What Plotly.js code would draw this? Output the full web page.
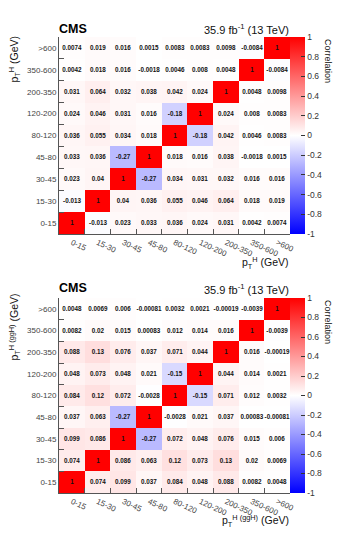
<!DOCTYPE html>
<html>
<head>
<meta charset="utf-8">
<script src="https://cdn.plot.ly/plotly-3.0.1.min.js"></script>
<style>
  html, body { margin: 0; padding: 0; background: #fff; }
  #chart { width: 338px; height: 536px; }
</style>
</head>
<body>
<div id="chart"></div>
<script>
// Higgs pT bins (bottom-to-top on y, left-to-right on x)
const ptBins = ['0-15', '15-30', '30-45', '45-80', '80-120', '120-200', '200-350', '350-600', '>600'];

// Colour bar ticks
const cbTicks = [-1, -0.8, -0.6, -0.4, -0.2, 0, 0.2, 0.4, 0.6, 0.8, 1];

// Correlation matrix, inclusive pT^H (rows: 0-15 ... >600)
const corrInclusive = [
  [1, -0.013, 0.023, 0.033, 0.036, 0.024, 0.031, 0.0042, 0.0074],
  [-0.013, 1, 0.04, 0.036, 0.055, 0.046, 0.064, 0.018, 0.019],
  [0.023, 0.04, 1, -0.27, 0.034, 0.031, 0.032, 0.016, 0.016],
  [0.033, 0.036, -0.27, 1, 0.018, 0.016, 0.038, -0.0018, 0.0015],
  [0.036, 0.055, 0.034, 0.018, 1, -0.18, 0.042, 0.0046, 0.0083],
  [0.024, 0.046, 0.031, 0.016, -0.18, 1, 0.024, 0.008, 0.0083],
  [0.031, 0.064, 0.032, 0.038, 0.042, 0.024, 1, 0.0048, 0.0098],
  [0.0042, 0.018, 0.016, -0.0018, 0.0046, 0.008, 0.0048, 1, -0.0084],
  [0.0074, 0.019, 0.016, 0.0015, 0.0083, 0.0083, 0.0098, -0.0084, 1]
];

// Correlation matrix, pT^H (ggH) (rows: 0-15 ... >600)
const corrGgH = [
  [1, 0.074, 0.099, 0.037, 0.084, 0.048, 0.088, 0.0082, 0.0048],
  [0.074, 1, 0.086, 0.063, 0.12, 0.073, 0.13, 0.02, 0.0069],
  [0.099, 0.086, 1, -0.27, 0.072, 0.048, 0.076, 0.015, 0.006],
  [0.037, 0.063, -0.27, 1, -0.0028, 0.021, 0.037, 0.00083, -0.00081],
  [0.084, 0.12, 0.072, -0.0028, 1, -0.15, 0.071, 0.012, 0.0032],
  [0.048, 0.073, 0.048, 0.021, -0.15, 1, 0.044, 0.014, 0.0021],
  [0.088, 0.13, 0.076, 0.037, 0.071, 0.044, 1, 0.016, -0.00019],
  [0.0082, 0.02, 0.015, 0.00083, 0.012, 0.014, 0.016, 1, -0.0039],
  [0.0048, 0.0069, 0.006, -0.00081, 0.0032, 0.0021, -0.00019, -0.0039, 1]
];

const W = 338, H = 536;
const px = v => v / W;          // horizontal pixel -> paper
const py = v => 1 - v / H;      // vertical pixel (from top) -> paper

const FONT = 'Liberation Sans, Arial, Helvetica, sans-serif';
const blueWhiteRed = [[0, 'rgb(0,0,255)'], [0.5, 'rgb(255,255,255)'], [1, 'rgb(255,0,0)']];

function heat(z, xa, ya, cbTop, cbLen) {
  return {
    type: 'heatmap',
    x: ptBins, y: ptBins, z: z,
    xaxis: xa, yaxis: ya,
    zmin: -1, zmax: 1,
    colorscale: blueWhiteRed,
    text: z.map(r => r.map(String)),
    texttemplate: '%{text}',
    textfont: { family: FONT, size: 6.3, color: '#111', weight: 'bold' },
    hoverinfo: 'skip',
    colorbar: {
      x: px(290), xanchor: 'left', xpad: 0,
      y: py(cbTop), yanchor: 'top', ypad: 0,
      len: cbLen / H, lenmode: 'fraction',
      thickness: 15, thicknessmode: 'pixels',
      outlinewidth: 0,
      tickmode: 'array', tickvals: cbTicks, ticktext: cbTicks.map(String),
      ticks: 'inside', ticklen: 4, tickcolor: '#333',
      tickfont: { family: FONT, size: 8.5, color: '#333' }
    }
  };
}

function xAxis(anchor, top, bottom) {
  return {
    domain: [px(59), px(290)], anchor: anchor,
    type: 'category', categoryorder: 'array', categoryarray: ptBins,
    range: [-0.5, 8.5], fixedrange: true,
    tickson: 'boundaries', ticks: 'inside', ticklen: 5, tickcolor: '#555',
    showline: true, linecolor: '#555', linewidth: 1,
    showgrid: false, zeroline: false,
    tickangle: 25,
    tickfont: { family: FONT, size: 8, color: '#444' }
  };
}

function yAxis(anchor, top, bottom) {
  return {
    domain: [py(bottom), py(top)], anchor: anchor,
    type: 'category', categoryorder: 'array', categoryarray: ptBins,
    range: [-0.5, 8.5], fixedrange: true,
    tickson: 'boundaries', ticks: 'inside', ticklen: 5, tickcolor: '#555',
    showline: true, linecolor: '#555', linewidth: 1,
    showgrid: false, zeroline: false,
    tickfont: { family: FONT, size: 8, color: '#444' }
  };
}

const traces = [
  heat(corrInclusive, 'x', 'y', 37, 197),
  heat(corrGgH, 'x2', 'y2', 298, 195)
];

function label(text, x, y, opts) {
  return Object.assign({
    text: text, xref: 'paper', yref: 'paper', x: px(x), y: py(y),
    showarrow: false, font: { family: FONT, size: 10.5, color: '#111' }
  }, opts || {});
}

const annotations = [
  // upper panel
  label('<b>CMS</b>', 57, 29, { xanchor: 'left', yanchor: 'middle', font: { family: FONT, size: 12.5, color: '#000' } }),
  label('35.9 fb<sup>-1</sup> (13 TeV)', 291, 29, { xanchor: 'right', yanchor: 'middle', font: { family: FONT, size: 11, color: '#111' } }),
  label('p<sub>T</sub><sup>H</sup> (GeV)', 291, 263, { xanchor: 'right', yanchor: 'middle' }),
  label('p<sub>T</sub><sup>H</sup> (GeV)', 14, 34, { xanchor: 'center', yanchor: 'top', textangle: -90 }),
  label('Correlation', 328, 37, { xanchor: 'center', yanchor: 'top', textangle: 90, font: { family: FONT, size: 9, color: '#111' } }),
  // lower panel
  label('<b>CMS</b>', 57, 288, { xanchor: 'left', yanchor: 'middle', font: { family: FONT, size: 12.5, color: '#000' } }),
  label('35.9 fb<sup>-1</sup> (13 TeV)', 291, 289, { xanchor: 'right', yanchor: 'middle', font: { family: FONT, size: 11, color: '#111' } }),
  label('p<sub>T</sub><sup>H (ggH)</sup> (GeV)', 291, 521, { xanchor: 'right', yanchor: 'middle' }),
  label('p<sub>T</sub><sup>H (ggH)</sup> (GeV)', 14, 292, { xanchor: 'center', yanchor: 'top', textangle: -90 }),
  label('Correlation', 328, 298, { xanchor: 'center', yanchor: 'top', textangle: 90, font: { family: FONT, size: 9, color: '#111' } })
];

const layout = {
  width: W, height: H,
  margin: { l: 0, r: 0, t: 0, b: 0 },
  paper_bgcolor: '#fff', plot_bgcolor: '#fff',
  showlegend: false,
  font: { family: FONT },
  xaxis: xAxis('y'),
  yaxis: yAxis('x', 37, 234),
  xaxis2: xAxis('y2'),
  yaxis2: yAxis('x2', 298, 493),
  annotations: annotations
};

Plotly.newPlot('chart', traces, layout, { staticPlot: true, displayModeBar: false });
</script>
</body>
</html>
